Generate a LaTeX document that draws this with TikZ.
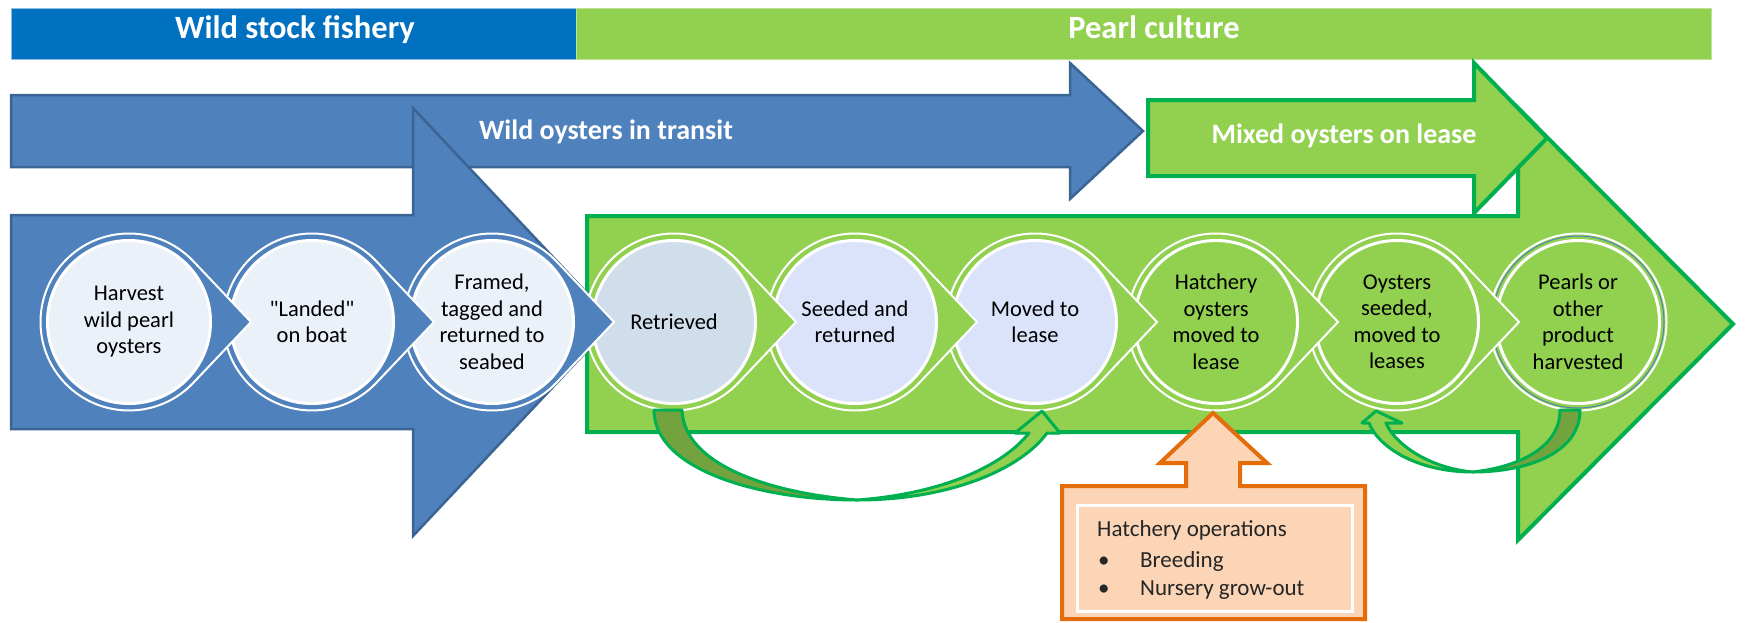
\documentclass[tikz,border=0pt]{standalone}
\usepackage{fontspec}
\setmainfont{Carlito}[Ligatures=TeXOff]

\definecolor{fisheryblue}{HTML}{0070C0}
\definecolor{culturegreen}{HTML}{92D050}
\definecolor{wildblue}{HTML}{4F81BD}
\definecolor{wildedge}{HTML}{3A6494}
\definecolor{leasegreen}{HTML}{92D050}
\definecolor{leaseedge}{HTML}{00B050}
\definecolor{backolive}{HTML}{72A33E}
\definecolor{wildfill}{HTML}{EBF1F9}
\definecolor{retrfill}{HTML}{D0DEEC}
\definecolor{seedfill}{HTML}{DAE3FA}
\definecolor{hatchfill}{HTML}{FBD5B5}
\definecolor{hatchedge}{HTML}{E46C0A}

\begin{document}
\begin{tikzpicture}[x=1pt,y=1pt,
    bandtext/.style={text=white,font=\bfseries\fontsize{32.5}{38}\selectfont,inner sep=0pt},
    flowtext/.style={text=white,font=\bfseries\fontsize{28}{33}\selectfont,inner sep=0pt},
    ring/.style={draw=white,line width=2pt,fill=#1},
    stepnode/.style={shape=circle,draw=white,line width=3pt,minimum size=163pt,inner sep=0pt,align=center,font=\fontsize{22.5}{26.5}\selectfont},
    loopback/.style={draw=leaseedge,line width=3pt,line join=round},
    hatchtext/.style={font=\fontsize{23}{27}\selectfont,text=black!85,inner sep=0pt,anchor=base west}]
\useasboundingbox (0,0) rectangle (1746,-622);
\clip (0,0) rectangle (1746,-622);

% header bands
\filldraw[fill=fisheryblue,draw=fisheryblue!45!white,line width=1pt] (11,-8) rectangle (576,-59);
\filldraw[fill=culturegreen,draw=culturegreen!60!white,line width=1pt] (576,-8) rectangle (1711,-59);
\node[bandtext,anchor=base] (fishery) at (295,-38) {Wild stock fishery};
\node[bandtext,anchor=base] (culture) at (1154,-38) {Pearl culture};

% wild oysters in transit
\filldraw[fill=wildblue,draw=wildedge,line width=2.5pt] (11,-95) -- (1070,-95) -- (1070,-63) -- (1143,-131)
    -- (1070,-199) -- (1070,-167) -- (11,-167) -- cycle;
\node[flowtext,anchor=base] (transit) at (606,-139) {Wild oysters in transit};

% pearl culture arrow
\filldraw[fill=leasegreen,draw=leaseedge,line width=4pt] (587,-216) -- (1518,-216) -- (1518,-108) -- (1733,-324)
    -- (1518,-540) -- (1518,-432) -- (587,-432) -- cycle;

% wild stock arrow
\filldraw[fill=wildblue,draw=wildedge,line width=2.5pt] (11,-215) -- (413,-215) -- (413,-108) -- (614,-322)
    -- (413,-536) -- (413,-429) -- (11,-429) -- cycle;

% mixed oysters on lease
\filldraw[fill=leasegreen,draw=leaseedge,line width=4pt] (1148,-100) -- (1474,-100) -- (1474,-63) -- (1547,-138)
    -- (1474,-213) -- (1474,-176) -- (1148,-176) -- cycle;
\node[flowtext,anchor=base] (mixed) at (1344,-143) {Mixed oysters on lease};

% steps, right to left so each point lies over the next circle
\draw[ring=leasegreen] (1578,-322) circle[radius=88.5];
\draw[wildblue,line width=1pt] (1578,-322) circle[radius=86];
\node[stepnode,fill=leasegreen] (pearls) at (1578,-322) {Pearls or\\other\\product\\harvested};
\draw[ring=leasegreen] (1397,-322) ++(43.5:88.5) arc[start angle=43.5,end angle=316.5,radius=88.5] -- (1519,-322) -- cycle;
\node[stepnode,fill=leasegreen] (oyst) at (1397,-322) {Oysters\\seeded,\\moved to\\leases};
\draw[ring=leasegreen] (1216,-322) ++(43.5:88.5) arc[start angle=43.5,end angle=316.5,radius=88.5] -- (1338,-322) -- cycle;
\node[stepnode,fill=leasegreen] (hatch) at (1216,-322) {Hatchery\\oysters\\moved to\\lease};
\draw[ring=leasegreen] (1035,-322) ++(43.5:88.5) arc[start angle=43.5,end angle=316.5,radius=88.5] -- (1157,-322) -- cycle;
\node[stepnode,fill=seedfill] (moved) at (1035,-322) {Moved to\\lease};
\draw[ring=leasegreen] (855,-322) ++(43.5:88.5) arc[start angle=43.5,end angle=316.5,radius=88.5] -- (977,-322) -- cycle;
\node[stepnode,fill=seedfill] (seeded) at (855,-322) {Seeded and\\returned};
\draw[ring=leasegreen] (674,-322) ++(43.5:88.5) arc[start angle=43.5,end angle=316.5,radius=88.5] -- (796,-322) -- cycle;
\node[stepnode,fill=retrfill] (retr) at (674,-322) {Retrieved};
\draw[ring=wildblue] (492,-322) ++(43.5:88.5) arc[start angle=43.5,end angle=316.5,radius=88.5] -- (614,-322) -- cycle;
\node[stepnode,fill=wildfill] (framed) at (492,-322) {Framed,\\tagged and\\returned to\\seabed};
\draw[ring=wildblue] (312,-322) ++(43.5:88.5) arc[start angle=43.5,end angle=316.5,radius=88.5] -- (434,-322) -- cycle;
\node[stepnode,fill=wildfill] (landed) at (312,-322) {"Landed"\\on boat};
\draw[ring=wildblue] (129,-322) ++(43.5:88.5) arc[start angle=43.5,end angle=316.5,radius=88.5] -- (251,-322) -- cycle;
\node[stepnode,fill=wildfill] (harvest) at (129,-322) {Harvest\\wild pearl\\oysters};

% retrieved oysters go back to the lease
\draw[loopback,fill=backolive] ([xshift=-20pt,yshift=-5pt]retr.south)
    .. controls +(0,-60) and +(-97,0) .. ([xshift=183pt,yshift=-95pt]retr.south) coordinate (low1)
    .. controls +(-87,7) and +(2,-55) .. ([xshift=8pt,yshift=-5pt]retr.south) -- cycle;
\draw[loopback,fill=leasegreen] (low1) .. controls +(93,0) and +(-26,-36) .. ([xshift=12pt,yshift=-28pt]moved.south)
    -- ([xshift=25pt,yshift=-28pt]moved.south) -- ([xshift=7pt,yshift=-6pt]moved.south)
    -- ([xshift=-20pt,yshift=-28pt]moved.south) -- ([xshift=-6pt,yshift=-28pt]moved.south)
    .. controls +(-27,-34) and +(83,6) .. (low1) -- cycle;

% re-seeding loop after harvest
\draw[loopback,fill=backolive] ([xshift=2pt,yshift=-5pt]pearls.south)
    .. controls +(0,-45) and +(50,0) .. ([xshift=-105pt,yshift=-67pt]pearls.south) coordinate (low2)
    .. controls +(45,5) and +(0,-38) .. ([xshift=-18pt,yshift=-5pt]pearls.south) -- cycle;
\draw[loopback,fill=leasegreen] (low2) .. controls +(-55,0) and +(10,-25) .. ([xshift=-28pt,yshift=-18pt]oyst.south)
    -- ([xshift=-35pt,yshift=-18pt]oyst.south) -- ([xshift=-21pt,yshift=-6pt]oyst.south)
    -- ([xshift=5pt,yshift=-18pt]oyst.south) -- ([xshift=-11pt,yshift=-18pt]oyst.south)
    .. controls +(8,-20) and +(-45,4) .. (low2) -- cycle;

% hatchery callout
\filldraw[fill=hatchfill,draw=hatchedge,line width=4pt,line join=miter] (1062,-486) -- (1186,-486) -- (1186,-463)
    -- (1160,-463) -- (1213,-413) -- (1267,-463) -- (1240,-463) -- (1240,-486) -- (1365,-486)
    -- (1365,-619) -- (1062,-619) -- cycle;
\draw[white,line width=3pt] (1077,-505) rectangle (1352,-611);
\node[hatchtext] (ops) at (1097,-536) {Hatchery operations};
\node[hatchtext] (bul1) at (1098,-567) {\textbullet};
\node[hatchtext] (breed) at (1140,-567) {Breeding};
\node[hatchtext] (bul2) at (1098,-595) {\textbullet};
\node[hatchtext] (nursery) at (1140,-595) {Nursery grow-out};
\end{tikzpicture}
\end{document}
